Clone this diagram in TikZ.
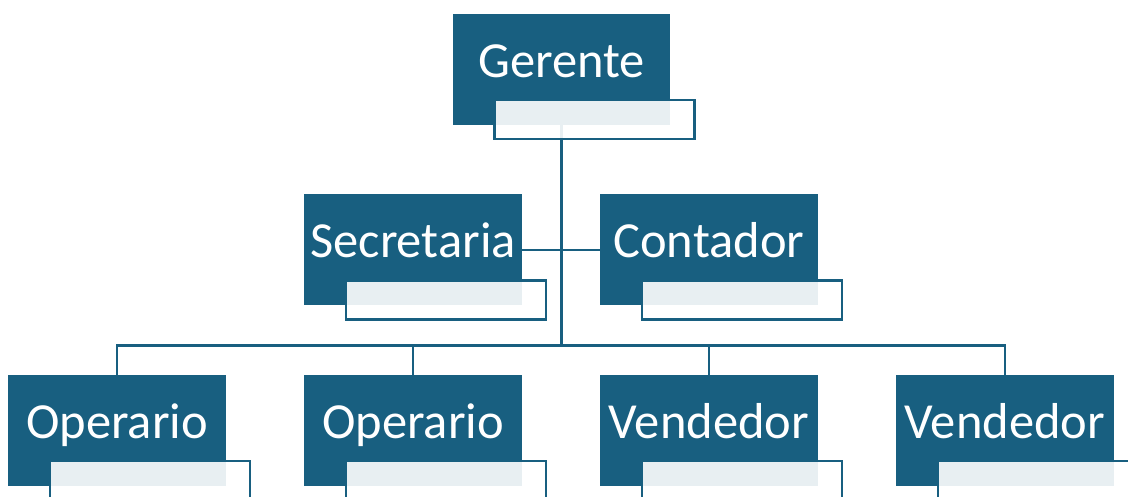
\documentclass[tikz,border=0pt]{standalone}
\usepackage{fontspec}
\setmainfont{Carlito}
\usepackage{xcolor}
\definecolor{org-blue}{HTML}{185F80}
\usepackage{tikz}
\usetikzlibrary{positioning}
\pgfdeclarelayer{background}
\pgfsetlayers{background,main}
\tikzset{post/.style = {fill=org-blue, draw=none, minimum width=217.5pt, minimum height=111pt, text=white, text height=32pt, text depth=16pt, font=\fontsize{50.5}{60}\selectfont}}
\tikzset{namebar/.style = {draw=org-blue, line width=2.5pt, fill=white, fill opacity=.9}}
\tikzset{link/.style = {draw=org-blue, line width=2.4pt}}

\begin{document}
\begin{tikzpicture}[x=1pt, y=1pt,
  node distance = 69pt and 78pt
]
\clip (0,0) rectangle (1128,496);
\useasboundingbox (0,0) rectangle (1128,496);

\node[post] (ger) at (561.5,426.5) {Gerente};
\node[post, below=of ger, xshift=-148.5pt] (sec) {Secretaria};
\node[post, right=of sec] (con) {Contador};
\node[post, below=of sec] (op2) {Operario};
\node[post, left=of op2] (op1) {Operario};
\node[post, right=of op2] (ven1) {Vendedor};
\node[post, right=of ven1] (ven2) {Vendedor};

% the bus between the rows sits 29pt over the lower boxes
\begin{pgfonlayer}{background}
\draw[link]  (ger.south) -- ([yshift=29pt]ger.south |- op2.north);
\draw[link]  (sec.east) -- (con.west);
\draw[link]  (op1.north) -- ++(0,29pt) -| (ven2.north);
\draw[link]  (op2.north) -- ++(0,29pt);
\draw[link]  (ven1.north) -- ++(0,29pt);
\end{pgfonlayer}

% empty title bars over the lower right corner of each box
\foreach \n in {ger, sec, con, op1, op2, ven1, ven2}
  \draw[namebar] ([xshift=42pt, yshift=25pt]\n.south west) rectangle ([xshift=24pt, yshift=-14pt]\n.south east);

\end{tikzpicture}
\end{document}
